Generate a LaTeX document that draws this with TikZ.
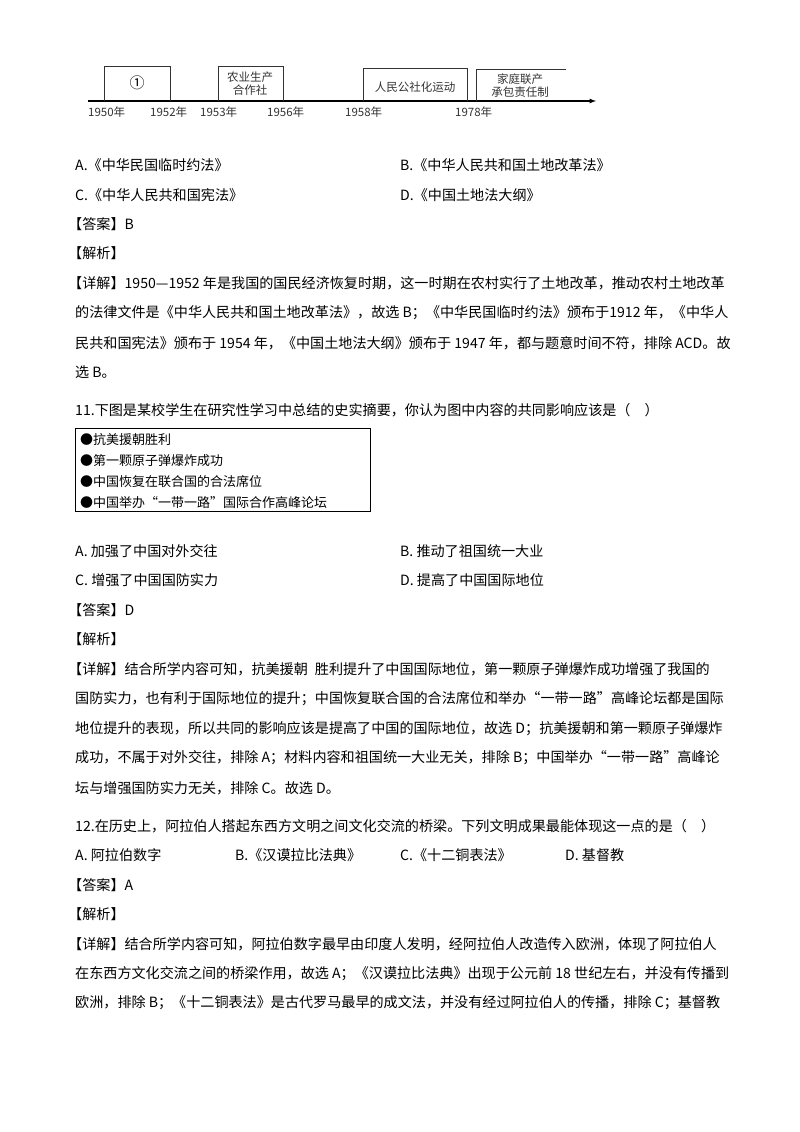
\documentclass[tikz,border=0pt]{standalone}
\usepackage{fontspec}
\setmainfont{Noto Sans CJK SC}
\begin{document}
\begin{tikzpicture}[x=1pt,y=-1pt,
  t/.style={anchor=west,inner sep=0pt,font=\fontsize{14.1}{15}\selectfont},
  yr/.style={anchor=north west,inner sep=0pt,font=\fontsize{11.5}{11.5}\selectfont,text=black!80},
  tb/.style={draw=black!80,line width=1pt},
  lb/.style={font=\fontsize{11.5}{13}\selectfont,align=center,text=black!80,inner sep=0pt},
  bl/.style={anchor=west,inner sep=0pt,font=\fontsize{13}{13}\selectfont}]
\useasboundingbox[fill=white] (0,0) rectangle (800,1132);
% timeline
\coordinate (ls) at (88,101);
\coordinate (le) at (596,101);
\draw[line width=1.2pt,-latex] (ls) -- (le);
\draw[tb] (104,101) -- (104,67) -- (170,67) -- (170,101);
\node[font=\fontsize{15}{15}\selectfont] (n1) at (137,83) {①};
\draw[tb] (218,101) -- (218,67) -- (283,67) -- (283,101);
\node[lb] (n2) at (250,84) {农业生产\\合作社};
\draw[tb] (363,101) -- (363,69) -- (467,69) -- (467,101);
\node[lb] (n3) at (415,87) {人民公社化运动};
\draw[tb] (476,101) -- (476,70) -- (566,70);
\node[lb] (n4) at (520,86) {家庭联产\\承包责任制};
\node[yr] (y1) at (88,107) {1950年};
\node[yr] (y2) at (150,107) {1952年};
\node[yr] (y3) at (200,107) {1953年};
\node[yr] (y4) at (267,107) {1956年};
\node[yr] (y5) at (345,107) {1958年};
\node[yr] (y6) at (455,107) {1978年};
% Q10 options
\node[t] (a10) at (75,165) {A.《中华民国临时约法》};
\node[t] (b10) at (400,165) {B.《中华人民共和国土地改革法》};
\node[t] (c10) at (75,195) {C.《中华人民共和国宪法》};
\node[t] (d10) at (400,195) {D.《中国土地法大纲》};
\node[t] (ans10) at (68,224) {【答案】B};
\node[t] (jx10) at (68,253) {【解析】};
\node[t] (l1) at (68,283) {【详解】1950—1952 年是我国的国民经济恢复时期，这一时期在农村实行了土地改革，推动农村土地改革};
\node[t] (l2) at (75,313) {的法律文件是《中华人民共和国土地改革法》，故选 B；《中华民国临时约法》颁布于1912 年，《中华人};
\node[t] (l3) at (75,343) {民共和国宪法》颁布于 1954 年，《中国土地法大纲》颁布于 1947 年，都与题意时间不符，排除 ACD。故};
\node[t] (l4) at (75,372) {选 B。};
% Q11
\node[t] (q11) at (75,410) {11.下图是某校学生在研究性学习中总结的史实摘要，你认为图中内容的共同影响应该是（\quad ）};
\draw[line width=0.8pt] (75,428) rectangle (370,511);
\node[bl] (i1) at (80,440) {●抗美援朝胜利};
\node[bl] (i2) at (80,461) {●第一颗原子弹爆炸成功};
\node[bl] (i3) at (80,482) {●中国恢复在联合国的合法席位};
\node[bl] (i4) at (80,503) {●中国举办“一带一路”国际合作高峰论坛};
\node[t] (a11) at (75,551) {A. 加强了中国对外交往};
\node[t] (b11) at (400,551) {B. 推动了祖国统一大业};
\node[t] (c11) at (75,580) {C. 增强了中国国防实力};
\node[t] (d11) at (400,580) {D. 提高了中国国际地位};
\node[t] (ans11) at (68,610) {【答案】D};
\node[t] (jx11) at (68,639) {【解析】};
\node[t] (m1) at (68,669) {【详解】结合所学内容可知，抗美援朝\enspace 胜利提升了中国国际地位，第一颗原子弹爆炸成功增强了我国的};
\node[t] (m2) at (75,699) {国防实力，也有利于国际地位的提升；中国恢复联合国的合法席位和举办“一带一路”高峰论坛都是国际};
\node[t] (m3) at (75,729) {地位提升的表现，所以共同的影响应该是提高了中国的国际地位，故选 D；抗美援朝和第一颗原子弹爆炸};
\node[t] (m4) at (75,758) {成功，不属于对外交往，排除 A；材料内容和祖国统一大业无关，排除 B；中国举办“一带一路”高峰论};
\node[t] (m5) at (75,788) {坛与增强国防实力无关，排除 C。故选 D。};
% Q12
\node[t] (q12) at (75,826) {12.在历史上，阿拉伯人搭起东西方文明之间文化交流的桥梁。下列文明成果最能体现这一点的是（\quad ）};
\node[t] (a12) at (75,855) {A. 阿拉伯数字};
\node[t] (b12) at (235,855) {B.《汉谟拉比法典》};
\node[t] (c12) at (400,855) {C.《十二铜表法》};
\node[t] (d12) at (565,855) {D. 基督教};
\node[t] (ans12) at (68,885) {【答案】A};
\node[t] (jx12) at (68,914) {【解析】};
\node[t] (k1) at (68,944) {【详解】结合所学内容可知，阿拉伯数字最早由印度人发明，经阿拉伯人改造传入欧洲，体现了阿拉伯人};
\node[t] (k2) at (75,974) {在东西方文化交流之间的桥梁作用，故选 A；《汉谟拉比法典》出现于公元前 18 世纪左右，并没有传播到};
\node[t] (k3) at (75,1003) {欧洲，排除 B；《十二铜表法》是古代罗马最早的成文法，并没有经过阿拉伯人的传播，排除 C；基督教};
\end{tikzpicture}
\end{document}
